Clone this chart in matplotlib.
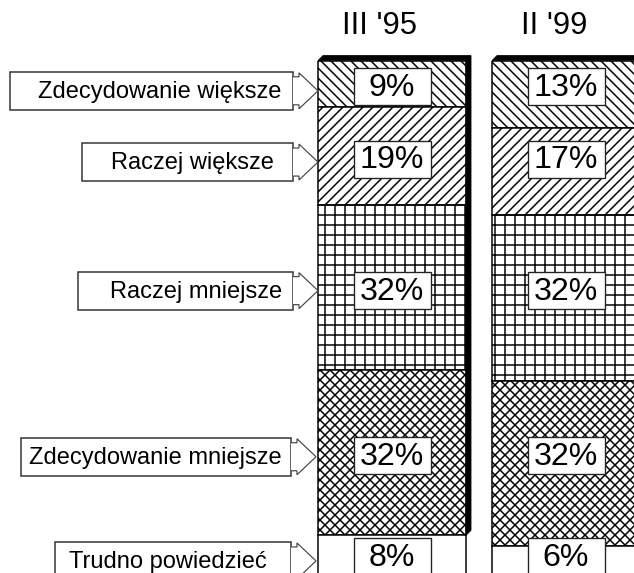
import matplotlib
matplotlib.use("Agg")
import matplotlib.pyplot as plt
import numpy as np
from matplotlib.patches import Polygon, Rectangle

# data
categories = ["Zdecydowanie większe", "Raczej większe", "Raczej mniejsze",
              "Zdecydowanie mniejsze", "Trudno powiedzieć"]
periods = ["III '95", "II '99"]
share_95 = [9, 19, 32, 32, 8]
share_99 = [13, 17, 32, 32, 6]
hatches = ["\\\\\\\\", "////", "++", "xxxx", ""]

# layout (pixels)
W, H, DPI = 634, 573, 120
top_px, bot_px = 60.6, 576.6
bar_c = [392, 566]
bar_w = 148
depth = 5
box_left = [10, 82, 78, 21, 55]
box_right = [293, 293, 293, 291, 291]
text_cx = [160, 192, 196, 155, 168]
label_dy = [7, 6, 3, 4, 5]
pct_dy = [3, 3, 3, 3, 1]

plt.rcParams["font.family"] = ["Liberation Sans", "DejaVu Sans"]
plt.rcParams["hatch.linewidth"] = 0.9
plt.rcParams["hatch.color"] = "black"

fig = plt.figure(figsize=(W / DPI, H / DPI), dpi=DPI)
fig.patch.set_facecolor("white")

# bar axes: 0 % at the top, 100 % at the bottom
ax = fig.add_axes([0, (H - bot_px) / H, 1, (bot_px - top_px) / H], zorder=1)
spacing = bar_c[1] - bar_c[0]
ax.set_xlim(-bar_c[0] / spacing, (W - bar_c[0]) / spacing)
ax.set_ylim(100, 0)
ax.axis("off")

# overlay in pixel coords (y down)
ov = fig.add_axes([0, 0, 1, 1], zorder=3)
ov.set_xlim(0, W)
ov.set_ylim(H, 0)
ov.axis("off")
ov.patch.set_alpha(0)


def to_px(xd, yd):
    disp = ax.transData.transform((xd, yd))
    return ov.transData.inverted().transform(disp)


x = np.arange(len(periods))
data = np.array([share_95, share_99])
width = bar_w / spacing
bottoms = np.zeros(len(periods))
for i, cat in enumerate(categories):
    vals = data[:, i]
    ax.bar(x, vals, bottom=bottoms, width=width, color="white",
           edgecolor="black", linewidth=0.9, hatch=hatches[i])
    bottoms += vals

# 3d-ish black top and side
for j in range(len(periods)):
    x0, yt = to_px(x[j] - width / 2, 0)
    x1, yb = to_px(x[j] + width / 2, 100 - data[j, -1])
    pts = [(x0, yt), (x0 + depth, yt - depth), (x1 + depth, yt - depth),
           (x1 + depth, yb - depth), (x1, yb), (x1, yt)]
    ov.add_patch(Polygon(pts, closed=True, facecolor="black", edgecolor="black", lw=0.5))

# period headers
for j, p in enumerate(periods):
    cx, _ = to_px(x[j], 0)
    ov.text(cx - 12, 34, p, ha="center", va="baseline", fontsize=18.5)

# percent boxes (rows follow the first bar's segments)
row_y = []
cum = 0
for i, v in enumerate(share_95):
    row_y.append(to_px(0, cum + v / 2)[1] + pct_dy[i])
    cum += v
for j in range(len(periods)):
    for i, v in enumerate(data[j]):
        cx = to_px(x[j], 0)[0]
        cy = row_y[i]
        ov.add_patch(Rectangle((cx - 38.5, cy - 18.5), 77, 37, facecolor="white",
                               edgecolor="#222222", lw=0.8))
        ov.text(cx, cy + 1, f"{v}%", ha="center", va="center", fontsize=19.3)

# category labels with arrows
cum = 0
for i, cat in enumerate(categories):
    _, yc = to_px(0, cum + share_95[i] / 2)
    cum += share_95[i]
    yc += label_dy[i]
    L, R = box_left[i], box_right[i]
    ov.add_patch(Rectangle((L, yc - 19), R - L, 38, facecolor="white",
                           edgecolor="#333333", lw=0.9))
    tip = R + 25
    arrow = [(R, yc - 14), (R + 6, yc - 14), (R + 6, yc - 18), (tip, yc),
             (R + 6, yc + 18), (R + 6, yc + 14), (R, yc + 14)]
    ov.add_patch(Polygon(arrow, closed=False, facecolor="white",
                         edgecolor="#444444", lw=0.7))
    ov.text(text_cx[i], yc + 1, cat, ha="center", va="center", fontsize=14.2)

fig.savefig("out.png", dpi=DPI, facecolor="white")
